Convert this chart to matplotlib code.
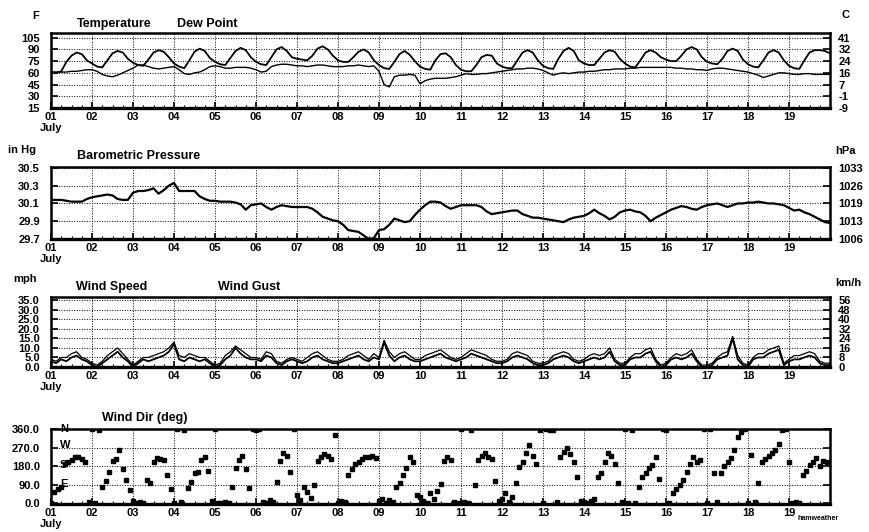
import numpy as np
import matplotlib
matplotlib.use("Agg")
import matplotlib.pyplot as plt

plt.rcParams['font.family'] = ['Liberation Sans', 'DejaVu Sans']
plt.rcParams['font.weight'] = 'bold'

# ---------------- data (3-hourly, index 0 = July 1 00:00) ----------------
day_labels = ["01\nJuly"] + ["%02d" % d for d in range(2, 20)]

temp_f = [61, 60, 62, 74, 82, 86, 84, 76,
          72, 68, 67, 76, 85, 88, 86, 78,
          73, 70, 69, 77, 86, 89, 87, 80,
          72, 68, 66, 76, 87, 91, 88, 79,
          74, 71, 70, 79, 88, 92, 89, 80,
          74, 71, 70, 80, 90, 93, 88, 80,
          78, 77, 76, 82, 91, 94, 90, 82,
          76, 74, 74, 80, 87, 90, 86, 76,
          70, 66, 65, 74, 84, 88, 83, 75,
          68, 65, 64, 76, 84, 85, 80, 70,
          64, 62, 62, 70, 80, 83, 82, 72,
          68, 66, 66, 76, 86, 89, 86, 76,
          69, 66, 65, 78, 88, 92, 88, 76,
          72, 70, 70, 78, 86, 89, 87, 78,
          72, 68, 67, 76, 86, 89, 86, 80,
          77, 75, 75, 82, 90, 93, 90, 80,
          74, 72, 71, 78, 88, 91, 88, 77,
          71, 68, 67, 76, 86, 89, 86, 76,
          69, 66, 65, 76, 86, 89, 89, 88,
          85]

dew_f = [61, 61, 61, 61, 62, 62, 63, 64,
         64, 62, 58, 56, 55, 57, 60, 63,
         66, 70, 70, 68, 66, 65, 66, 67,
         68, 64, 59, 58, 60, 61, 64, 68,
         69, 68, 66, 66, 67, 67, 67, 66,
         64, 61, 62, 68, 70, 71, 71, 70,
         69, 69, 68, 69, 70, 70, 69, 68,
         68, 68, 69, 69, 70, 69, 68, 69,
         62, 45, 42, 55, 57, 57, 58, 57,
         46, 50, 52, 53, 53, 53, 54, 55,
         57, 59, 58, 58, 59, 59, 60, 61,
         62, 63, 64, 65, 65, 66, 66, 65,
         63, 60, 57, 59, 60, 59, 60, 61,
         61, 62, 62, 63, 64, 64, 65, 65,
         65, 66, 66, 67, 67, 67, 67, 67,
         67, 67, 66, 66, 65, 65, 64, 64,
         63, 65, 66, 66, 65, 64, 63, 62,
         61, 59, 57, 54, 56, 58, 60, 60,
         59, 58, 58, 59, 59, 58, 58, 58,
         58]

pressure_inhg = [30.14, 30.14, 30.14, 30.13, 30.12, 30.12, 30.12, 30.15,
                 30.17, 30.18, 30.19, 30.20, 30.19, 30.15, 30.14, 30.14,
                 30.22, 30.24, 30.24, 30.25, 30.27, 30.21, 30.25, 30.30,
                 30.33, 30.24, 30.24, 30.24, 30.24, 30.18, 30.15, 30.13,
                 30.13, 30.12, 30.12, 30.12, 30.11, 30.09, 30.03, 30.08,
                 30.09, 30.10, 30.06, 30.03, 30.06, 30.08, 30.07, 30.06,
                 30.06, 30.06, 30.06, 30.04, 30.00, 29.95, 29.93, 29.91,
                 29.90, 29.86, 29.80, 29.79, 29.78, 29.74, 29.70, 29.71,
                 29.80, 29.81, 29.86, 29.93, 29.91, 29.89, 29.90, 29.97,
                 30.03, 30.08, 30.12, 30.12, 30.11, 30.07, 30.04, 30.06,
                 30.08, 30.08, 30.08, 30.08, 30.06, 30.01, 29.98, 29.99,
                 30.00, 30.01, 30.02, 30.02, 29.98, 29.96, 29.94, 29.94,
                 29.93, 29.92, 29.91, 29.90, 29.89, 29.92, 29.94, 29.95,
                 29.96, 29.99, 30.03, 29.99, 29.96, 29.92, 29.95, 30.00,
                 30.02, 30.03, 30.01, 30.00, 29.96, 29.90, 29.94, 29.97,
                 30.00, 30.03, 30.05, 30.07, 30.06, 30.04, 30.03, 30.06,
                 30.08, 30.09, 30.10, 30.08, 30.06, 30.08, 30.10, 30.10,
                 30.11, 30.11, 30.12, 30.11, 30.10, 30.10, 30.09, 30.08,
                 30.05, 30.02, 30.03, 30.00, 29.98, 29.95, 29.92, 29.89,
                 29.88]

wind_speed = [3, 2, 4, 3, 5, 6, 4, 3,
              1, 0, 2, 4, 6, 8, 5, 3,
              0, 2, 4, 3, 4, 5, 6, 8,
              12, 4, 3, 5, 4, 3, 4, 2,
              0, 1, 4, 6, 10, 7, 5, 4,
              4, 3, 6, 5, 2, 1, 3, 4,
              3, 2, 3, 5, 6, 4, 3, 2,
              2, 3, 4, 5, 6, 4, 3, 5,
              4, 13, 6, 3, 5, 6, 4, 3,
              3, 4, 5, 6, 7, 5, 4, 3,
              4, 5, 7, 6, 5, 4, 3, 2,
              2, 3, 5, 6, 5, 4, 2, 1,
              1, 2, 4, 5, 6, 5, 3, 2,
              3, 4, 5, 4, 5, 8, 3, 1,
              1, 4, 5, 5, 7, 8, 3, 0,
              1, 4, 5, 4, 5, 7, 3, 0,
              0, 1, 4, 5, 6, 15, 4, 1,
              0, 4, 5, 5, 7, 8, 9, 1,
              3, 4, 4, 5, 6, 5, 2, 1,
              1]

wind_gust = [4, 3, 5, 5, 7, 8, 5, 4,
             2, 1, 3, 6, 8, 10, 7, 4,
             1, 3, 5, 5, 6, 7, 8, 10,
             13, 6, 5, 7, 6, 5, 5, 3,
             1, 2, 6, 8, 11, 9, 7, 5,
             5, 4, 8, 7, 3, 2, 4, 5,
             4, 3, 5, 7, 8, 6, 4, 3,
             3, 4, 6, 7, 8, 6, 4, 7,
             5, 14, 8, 5, 7, 8, 6, 4,
             4, 6, 7, 8, 9, 7, 5, 4,
             5, 7, 9, 8, 7, 6, 4, 3,
             3, 4, 7, 8, 7, 6, 3, 2,
             2, 3, 6, 7, 8, 7, 4, 3,
             4, 6, 7, 6, 7, 10, 4, 2,
             2, 5, 7, 7, 9, 10, 4, 1,
             2, 5, 7, 6, 7, 9, 4, 1,
             1, 2, 5, 7, 8, 16, 6, 2,
             1, 5, 7, 7, 9, 10, 11, 2,
             4, 6, 6, 7, 8, 7, 3, 2,
             2]

# wind direction, 2-hourly
wind_dir = [0, 55, 70, 80, 190, 200, 210, 225, 228, 215, 200, 5,
            360, 0, 358, 80, 110, 155, 205, 215, 260, 165, 115, 65,
            10, 0, 5, 2, 115, 100, 200, 220, 215, 210, 140, 70,
            0, 360, 5, 355, 75, 105, 150, 155, 210, 225, 160, 10,
            360, 0, 3, 5, 0, 80, 170, 210, 230, 165, 75, 360,
            355, 360, 5, 0, 15, 5, 105, 205, 245, 230, 155, 360,
            40, 15, 80, 55, 25, 90, 205, 225, 240, 230, 215, 335,
            0, 10, 5, 140, 165, 190, 200, 215, 225, 225, 230, 220,
            10, 20, 0, 15, 5, 80, 100, 140, 170, 225, 200, 40,
            30, 10, 0, 50, 20, 60, 95, 205, 225, 210, 5, 0,
            360, 5, 0, 358, 90, 210, 230, 245, 225, 215, 110, 10,
            20, 50, 5, 30, 100, 175, 200, 245, 285, 230, 190, 355,
            0, 360, 355, 358, 5, 225, 250, 270, 240, 200, 130, 10,
            5, 0, 10, 20, 130, 150, 200, 245, 230, 190, 100, 5,
            360, 0, 358, 2, 80, 130, 150, 170, 185, 225, 120, 360,
            355, 0, 50, 70, 90, 115, 155, 190, 225, 200, 210, 360,
            0, 360, 150, 5, 150, 180, 200, 220, 260, 325, 345, 360,
            0, 235, 5, 100, 200, 215, 230, 245, 260, 290, 355, 360,
            200, 0, 5, 0, 140, 160, 185, 200, 220, 180, 205, 200]

# right-axis labels, bottom to top
c_labels = ["-9", "-1", "7", "16", "24", "32", "41"]
hpa_labels = ["1006", "1013", "1019", "1026", "1033"]
kmh_labels = ["0", "8", "16", "24", "32", "40", "48", "56"]

# ---------------- figure ----------------
W, H = 869, 532
fig = plt.figure(figsize=(W / 100, H / 100), dpi=100)
fig.patch.set_facecolor('white')

L, R = 51, 830


def add_ax(top, bottom):
    return fig.add_axes([L / W, 1 - bottom / H, (R - L) / W, (bottom - top) / H])


t3 = np.arange(len(temp_f)) / 8.0
t2 = np.arange(len(wind_dir)) / 12.0
FS = 8
TFS = 9
grid_kw = dict(color='black', linestyle=(0, (1, 1.6)), linewidth=0.7)


def style(ax, yticks, ylabels, ylim, right_labels=None):
    ax.set_xlim(0, 19)
    ax.set_ylim(*ylim)
    ax.set_xticks(range(19))
    ax.set_xticklabels(day_labels, fontsize=FS, fontweight='bold', linespacing=1.05)
    ax.set_xticks(np.arange(0, 19, 0.25), minor=True)
    ax.set_yticks(yticks)
    ax.set_yticklabels(ylabels, fontsize=FS, fontweight='bold')
    ax.tick_params(axis='x', which='major', direction='in', length=4, width=1.2, pad=3, top=False)
    ax.tick_params(axis='x', which='minor', direction='in', length=2, width=0.8, top=False)
    ax.tick_params(axis='y', direction='in', length=5, width=1.2, pad=8, left=True, right=True)
    ax.grid(True, which='major', **grid_kw)
    for s in ax.spines.values():
        s.set_linewidth(1.8)
    ax.spines['bottom'].set_linewidth(2.4)
    ax2 = ax.twinx()
    ax2.set_ylim(*ylim)
    ax2.set_yticks(yticks)
    if right_labels is not None:
        ax2.set_yticklabels(right_labels, fontsize=FS, fontweight='bold')
    else:
        ax2.set_yticklabels([])
    ax2.tick_params(axis='y', direction='in', length=5, width=1.2, pad=6)
    for s in ax2.spines.values():
        s.set_visible(False)
    return ax2


def ftext(x, y, s, size=FS, ha='left', **kw):
    fig.text(x / W, 1 - y / H, s, fontsize=size, ha=ha, va='center', fontweight='bold', **kw)


# Panel 1: temperature / dew point
ax1 = add_ax(33, 108)
ax1.plot(t3, temp_f, color='black', lw=1.3)
ax1.plot(t3, dew_f, color='black', lw=1.0)
style(ax1, [15, 30, 45, 60, 75, 90, 105], ["15", "30", "45", "60", "75", "90", "105"], (15, 111), c_labels)

# Panel 2: pressure
ax2 = add_ax(167, 239)
ax2.plot(t3, pressure_inhg, color='black', lw=1.6)
style(ax2, [29.7, 29.9, 30.1, 30.3, 30.5], ["29.7", "29.9", "30.1", "30.3", "30.5"], (29.7, 30.51), hpa_labels)

# Panel 3: wind speed / gust
ax3 = add_ax(297, 367)
ax3.plot(t3, wind_gust, color='black', lw=0.9)
ax3.plot(t3, wind_speed, color='black', lw=1.3)
style(ax3, [0, 5, 10, 15, 20, 25, 30, 35], ["0.0", "5.0", "10.0", "15.0", "20.0", "25.0", "30.0", "35.0"],
      (0, 36.7), kmh_labels)

# Panel 4: wind direction
ax4 = add_ax(429, 504)
ax4.plot(t2, wind_dir, linestyle='none', marker='s', markersize=3.3, color='black')
style(ax4, [0, 90, 180, 270, 360], ["0.0", "90.0", "180.0", "270.0", "360.0"], (-3, 362), None)
for lab, v in [("N", 360), ("W", 282), ("S", 188), ("E", 95)]:
    ax4.text(0.22, v, lab, fontsize=FS, fontweight='bold', va='center', ha='left')

# Labels
ftext(36, 16, "F", ha='center')
ftext(846, 15, "C", ha='center')
ftext(77, 24, "Temperature", size=TFS)
ftext(177, 24, "Dew Point", size=TFS)
ftext(22, 150, "in Hg", ha='center')
ftext(845, 151, "hPa", ha='center')
ftext(77, 156, "Barometric Pressure", size=TFS)
ftext(25, 279, "mph", ha='center')
ftext(848, 283, "km/h", ha='center')
ftext(76, 287, "Wind Speed", size=TFS)
ftext(218, 287, "Wind Gust", size=TFS)
ftext(102, 418, "Wind Dir (deg)", size=TFS)
ftext(797, 518, "hamweather", size=5)

fig.savefig("out.png", dpi=100, facecolor='white')
